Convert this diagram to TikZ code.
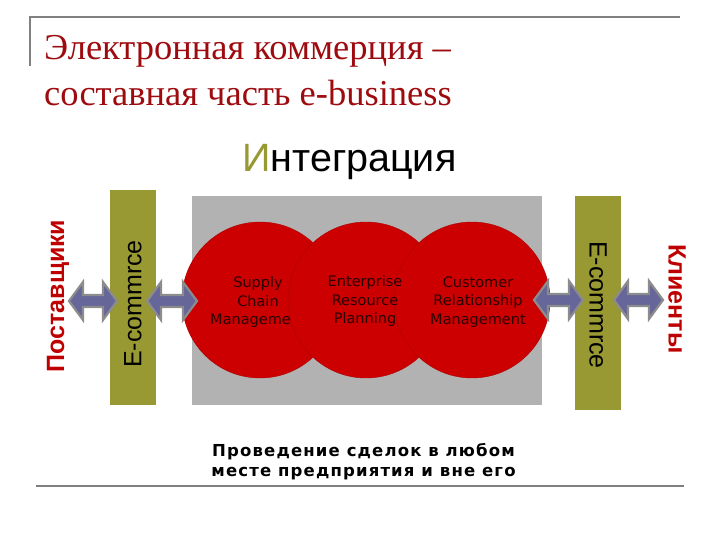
\documentclass[tikz,border=0pt]{standalone}
\usepackage{fontspec}
\setmainfont{Liberation Serif}
\newfontfamily\arialf{Liberation Sans}
\newfontfamily\verdf{DejaVu Sans}
\newfontfamily\verdbf{DejaVu Sans}[LetterSpace=7]
\usetikzlibrary{calc}
\definecolor{titlered}{HTML}{9E0B0F}
\definecolor{olivebar}{HTML}{999933}
\definecolor{boxgray}{HTML}{B2B2B2}
\definecolor{circred}{HTML}{CC0000}
\definecolor{arrfill}{HTML}{66669A}
\definecolor{arrline}{HTML}{8C8C8C}
\definecolor{labred}{HTML}{BE0000}
\definecolor{rulegray}{HTML}{808080}
\definecolor{circtext}{HTML}{2A0000}
\tikzset{
  rulestyle/.style={rulegray, line width=2.5pt},
  titletext/.style={anchor=base west, inner sep=0, text=titlered, font=\fontsize{36.5}{40}\selectfont},
  redcirc/.style={circle, fill=circred, draw=circred!85!black, line width=0.4pt, minimum size=156pt, inner sep=0},
  circlabel/.style={align=center, inner sep=0, text=circtext, font=\verdf\fontsize{14.5}{18.5}\selectfont},
  barbox/.style={fill=olivebar, minimum width=46pt, inner sep=0},
  bartext/.style={inner sep=0, font=\arialf\fontsize{25}{30}\selectfont},
  sidelabel/.style={inner sep=0, text=labred, font=\arialf\bfseries\fontsize{25}{30}\selectfont},
  fatarrow/.style={fill=arrfill, draw=arrline, line width=2.2pt, line join=miter}
}
\newcommand\fatarr[2]{%
  \path[fatarrow] (#1) -- ($(#1)+(14,19)$) -- ($(#1)+(14,6)$) -- ($(#2)+(-14,6)$)
    -- ($(#2)+(-14,19)$) -- (#2) -- ($(#2)+(-14,-19)$) -- ($(#2)+(-14,-6)$)
    -- ($(#1)+(14,-6)$) -- ($(#1)+(14,-19)$) -- cycle;}
\begin{document}
\begin{tikzpicture}[x=1pt,y=-1pt]
\useasboundingbox (0,0) rectangle (720,540);
% rules
\draw[rulestyle] (30,66) -- (30,17) -- (680,17);
\draw[rulestyle] (36,486) -- (684,486);
% title
\node[titletext] (t1) at (44,60) {Электронная коммерция –};
\node[titletext] (t2) at (44,106) {составная часть e-business};
\node[anchor=base west, inner sep=0, font=\arialf\fontsize{39.5}{44}\selectfont] (integ) at (242,172) {{\color{olivebar}И}нтеграция};
% central grey block
\node[fill=boxgray, minimum width=350pt, minimum height=209pt, inner sep=0, anchor=north west] (core) at (192,196) {};
% circles
\node[redcirc] (scm) at (260,300) {};
\node[redcirc] (erp) at (366,300) {};
\node[redcirc] (crm) at (472,300) {};
\begin{scope}
  \clip (180,250) rectangle (290.5,350);
  \node[circlabel] (scmt) at (258,302) {Supply\\Chain\\Management};
\end{scope}
\begin{scope}
  \clip (300,250) rectangle (401,350);
  \node[circlabel] (erpt) at (365,301) {Enterprise\\Resource\\Planning};
\end{scope}
\node[circlabel] (crmt) at (478,302) {Customer\\Relationship\\Management};
% bars
\node[barbox, minimum height=215pt] (ecl) at (133,297.5) {};
\node[barbox, minimum height=214pt] (ecr) at (598,303) {};
\node[bartext, rotate=90] (eclt) at (133,304) {E-commrce};
\node[bartext, rotate=-90] (ecrt) at (598,305) {E-commrce};
% side labels
\node[sidelabel, rotate=90] (sup) at (58,296) {Поставщики};
\node[sidelabel, rotate=-90] (cli) at (677,299) {Клиенты};
% arrows
\coordinate (a1l) at (69,301);  \coordinate (a1r) at (117,301);
\coordinate (a2l) at (147,301); \coordinate (a2r) at (197,301);
\coordinate (a3l) at (534,300); \coordinate (a3r) at (583,300);
\coordinate (a4l) at (614,300); \coordinate (a4r) at (663,300);
\fatarr{a1l}{a1r}
\fatarr{a2l}{a2r}
\fatarr{a3l}{a3r}
\fatarr{a4l}{a4r}
% bottom text
\node[align=center, inner sep=0, font=\verdbf\bfseries\fontsize{16.5}{20}\selectfont] (deal) at (363.5,462) {Проведение сделок в любом\\месте предприятия и вне его};
\end{tikzpicture}
\end{document}
